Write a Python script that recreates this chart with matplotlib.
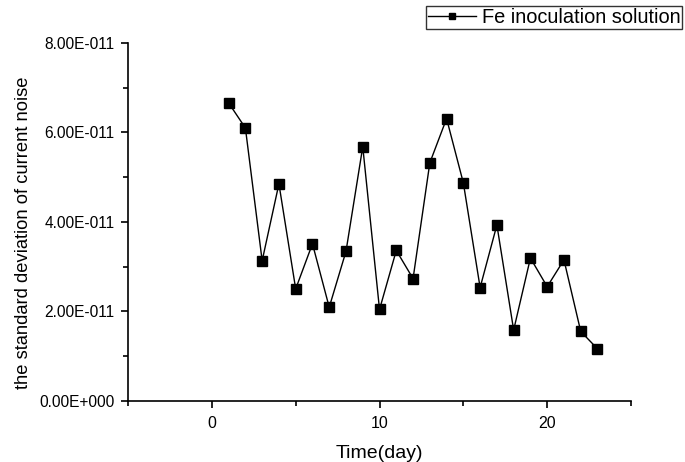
import numpy as np
import matplotlib.pyplot as plt
from matplotlib.ticker import FixedLocator, FuncFormatter

plt.rcParams['font.family'] = ['Liberation Sans', 'DejaVu Sans']

# Data
days = [1, 2, 3, 4, 5, 6, 7, 8, 9, 10, 11, 12, 13, 14, 15, 16, 17, 18, 19, 20, 21, 22, 23]
noise_std = [6.66, 6.10, 3.13, 4.85, 2.50, 3.51, 2.09, 3.34, 5.68, 2.04, 3.36, 2.73, 5.32,
             6.31, 4.87, 2.53, 3.93, 1.58, 3.19, 2.55, 3.15, 1.55, 1.16]
noise_std = np.array(noise_std) * 1e-11

x_major = [0, 10, 20]
x_minor = [-5, 5, 15, 25]
y_major = np.array([0, 2, 4, 6, 8]) * 1e-11
y_minor = np.array([1, 3, 5, 7]) * 1e-11


def origin_sci(v, pos):
    # Origin-style label, e.g. 8.00E-011
    if v == 0:
        return '0.00E+000'
    exp = int(np.floor(np.log10(abs(v)) + 1e-9))
    mant = v / 10 ** exp
    sign = '-' if exp < 0 else '+'
    return '%.2fE%s%03d' % (mant, sign, abs(exp))


fig = plt.figure(figsize=(6.85, 4.62), dpi=100)
ax = fig.add_axes([0.1869, 0.1327, 0.7343, 0.7742])

line, = ax.plot(days, noise_std, color='black', linewidth=1.0, marker='s',
                markersize=6.5, markerfacecolor='black', label='Fe inoculation solution')

ax.set_xlim(-5, 25)
ax.set_ylim(0, 8e-11)
ax.xaxis.set_major_locator(FixedLocator(x_major))
ax.xaxis.set_minor_locator(FixedLocator(x_minor))
ax.yaxis.set_major_locator(FixedLocator(y_major))
ax.yaxis.set_minor_locator(FixedLocator(y_minor))
ax.yaxis.set_major_formatter(FuncFormatter(origin_sci))

for s in ['top', 'right']:
    ax.spines[s].set_visible(False)
for s in ['left', 'bottom']:
    ax.spines[s].set_linewidth(1.2)

ax.tick_params(which='major', direction='out', length=5, width=1.2)
ax.tick_params(which='minor', direction='out', length=3.5, width=1.2)
ax.tick_params(axis='y', which='major', labelsize=11.2, pad=4.5)
ax.tick_params(axis='x', which='major', labelsize=11.5, pad=6)

ax.set_xlabel('Time(day)', fontsize=14, labelpad=10)
ax.set_ylabel('the standard deviation of current noise', fontsize=13.2)
ax.yaxis.set_label_coords(-0.19, 0.469)

leg = fig.legend(handles=[line], loc='upper right', bbox_to_anchor=(0.996, 0.986),
                 fontsize=14.4, frameon=True, fancybox=False, handlelength=2.4,
                 handletextpad=0.3, borderpad=0.1, borderaxespad=0, markerscale=0.7)
leg.get_frame().set_edgecolor('black')
leg.get_frame().set_linewidth(1.0)

plt.savefig('out.png', dpi=100)
